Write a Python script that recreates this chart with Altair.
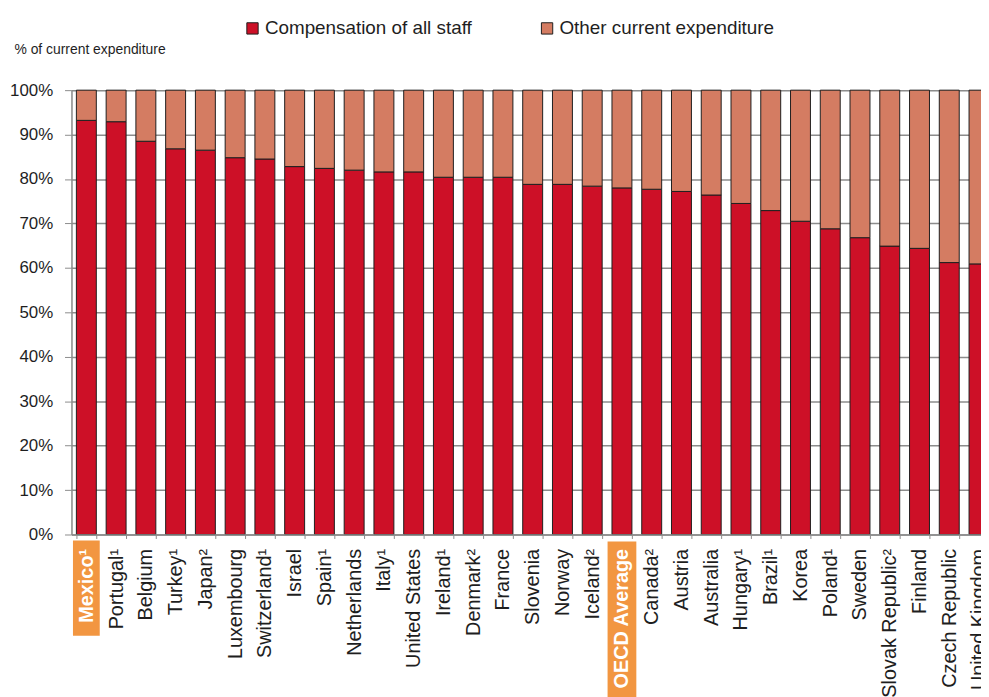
import altair as alt
import pandas as pd

countries = ["Mexico¹", "Portugal¹", "Belgium", "Turkey¹", "Japan²", "Luxembourg",
             "Switzerland¹", "Israel", "Spain¹", "Netherlands", "Italy¹", "United States",
             "Ireland¹", "Denmark²", "France", "Slovenia", "Norway", "Iceland²",
             "OECD Average", "Canada²", "Austria", "Australia", "Hungary¹", "Brazil¹",
             "Korea", "Poland¹", "Sweden", "Slovak Republic²", "Finland", "Czech Republic",
             "United Kingdom"]
staff = [93.2, 92.9, 88.5, 86.8, 86.5, 84.8, 84.5, 82.8, 82.4, 82.0, 81.6, 81.6,
         80.4, 80.4, 80.4, 78.8, 78.8, 78.4, 78.0, 77.7, 77.2, 76.4, 74.5, 72.9,
         70.5, 68.8, 66.8, 64.9, 64.4, 61.2, 60.9]
other = [6.8, 7.1, 11.5, 13.2, 13.5, 15.2, 15.5, 17.2, 17.6, 18.0, 18.4, 18.4,
         19.6, 19.6, 19.6, 21.2, 21.2, 21.6, 22.0, 22.3, 22.8, 23.6, 25.5, 27.1,
         29.5, 31.2, 33.2, 35.1, 35.6, 38.8, 39.1]
series = ["Compensation of all staff", "Other current expenditure"]
colors = ["#CD1027", "#D47C62"]
yticks = [0, 10, 20, 30, 40, 50, 60, 70, 80, 90, 100]
highlight = ["Mexico¹", "OECD Average"]

rows = []
for c, s, o in zip(countries, staff, other):
    rows.append({"country": c, "series": series[0], "value": s, "order": 0})
    rows.append({"country": c, "series": series[1], "value": o, "order": 1})
df = pd.DataFrame(rows)
hl_df = pd.DataFrame({"country": highlight})

FONT = "Liberation Sans"
GRAY = "#8c8c8c"
hl_expr = "indexof(['Mexico¹', 'OECD Average'], datum.value) >= 0"

x_scale = alt.Scale(domain=countries, range=[0, 930], paddingInner=0.33, paddingOuter=0.165)
x_axis = alt.Axis(
    title=None, labelAngle=-90, labelAlign="right", labelBaseline="middle",
    labelFontSize=20, labelPadding=10, tickSize=4, tickBand="extent",
    tickColor=GRAY, domainColor=GRAY, domainWidth=1.5, labelLimit=400,
    labelOverlap=False, labelBound=False, labelFont=FONT,
    labelColor=alt.ExprRef(hl_expr + " ? 'white' : '#1e1e1e'"),
    labelFontWeight=alt.ExprRef(hl_expr + " ? 'bold' : 'normal'"),
    zindex=1,
)
x_enc = alt.X("country:N", scale=x_scale, axis=x_axis)

y_axis = alt.Axis(
    values=yticks, labelExpr="datum.value + '%'", labelFontSize=17, labelColor="#1e1e1e",
    labelFont=FONT, tickSize=7, tickColor=GRAY, domainColor=GRAY, domainWidth=1.5,
    gridColor=GRAY, gridWidth=1.5, labelPadding=12,
    title="% of current expenditure", titleAngle=0, titleAlign="left",
    titleBaseline="middle", titleX=-58, titleY=-41, titleFontSize=14,
    titleFontWeight="normal", titleColor="#1e1e1e", titleFont=FONT,
)

bars = alt.Chart(df).mark_bar(stroke="#1e1e1e", strokeWidth=1).encode(
    x=x_enc,
    y=alt.Y("value:Q", stack="zero", scale=alt.Scale(domain=[0, 100], nice=False), axis=y_axis),
    color=alt.Color(
        "series:N", scale=alt.Scale(domain=series, range=colors),
        legend=alt.Legend(
            orient="none", legendX=173, legendY=-72, direction="horizontal", title=None,
            symbolType="square", symbolSize=130, symbolStrokeColor="#1e1e1e",
            symbolStrokeWidth=1, labelFontSize=19, labelColor="#1e1e1e", labelFont=FONT,
            labelLimit=400, columnPadding=66, labelOffset=3,
        ),
    ),
    order=alt.Order("order:Q"),
)

box_mx = alt.Chart(hl_df).transform_filter(alt.datum.country == highlight[0]).mark_bar(
    width=27, color="#F29641"
).encode(x=x_enc, y=alt.value(454), y2=alt.value(550))

box_oecd = alt.Chart(hl_df).transform_filter(alt.datum.country == highlight[1]).mark_bar(
    width=29, color="#F29641"
).encode(x=x_enc, y=alt.value(455), y2=alt.value(640))

chart = alt.layer(bars, box_mx, box_oecd).properties(
    width=917, height=448,
    autosize=alt.AutoSizeParams(type="none"),
    padding={"left": 64, "top": 80, "right": 0, "bottom": 161},
).configure_view(stroke=None).configure(background="white")

chart.save("out.html", embed_options={"renderer": "svg", "actions": False})
